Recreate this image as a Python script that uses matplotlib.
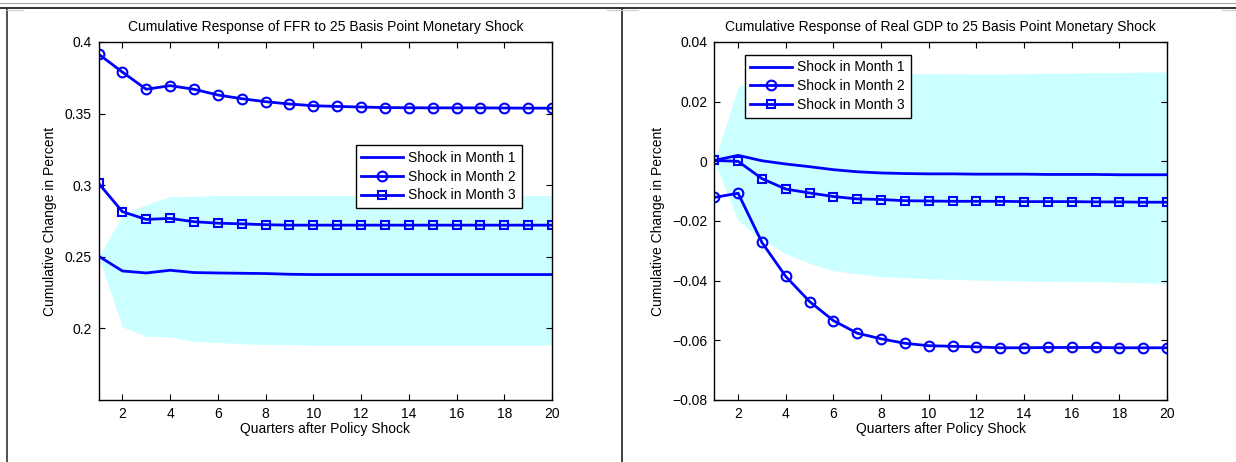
import matplotlib
matplotlib.use("Agg")
import matplotlib.pyplot as plt
from matplotlib.lines import Line2D

plt.rcParams['font.family'] = ['Liberation Sans', 'DejaVu Sans']

quarters = list(range(1, 21))

# FFR response
ffr_m1 = [0.2505, 0.2401, 0.2387, 0.2406, 0.2390, 0.2387, 0.2385, 0.2383, 0.2378, 0.2376,
          0.2376, 0.2376, 0.2376, 0.2376, 0.2376, 0.2376, 0.2376, 0.2376, 0.2376, 0.2376]
ffr_m2 = [0.3916, 0.3790, 0.3670, 0.3695, 0.3670, 0.3630, 0.3604, 0.3583, 0.3567, 0.3555,
          0.3550, 0.3546, 0.3542, 0.3541, 0.3540, 0.3540, 0.3540, 0.3539, 0.3538, 0.3538]
ffr_m3 = [0.3014, 0.2815, 0.2761, 0.2768, 0.2745, 0.2735, 0.2730, 0.2724, 0.2721, 0.2721,
          0.2721, 0.2721, 0.2721, 0.2721, 0.2721, 0.2721, 0.2721, 0.2721, 0.2721, 0.2721]
ffr_lo = [0.2500, 0.2010, 0.1944, 0.1940, 0.1909, 0.1902, 0.1893, 0.1888, 0.1886, 0.1884,
          0.1884, 0.1884, 0.1884, 0.1884, 0.1884, 0.1884, 0.1884, 0.1884, 0.1884, 0.1884]
ffr_hi = [0.2500, 0.2790, 0.2865, 0.2920, 0.2922, 0.2928, 0.2928, 0.2928, 0.2928, 0.2928,
          0.2928, 0.2928, 0.2928, 0.2928, 0.2928, 0.2928, 0.2928, 0.2928, 0.2928, 0.2928]

# Real GDP response
gdp_m1 = [0.0003, 0.0020, 0.0002, -0.0009, -0.0018, -0.0028, -0.0035, -0.0039, -0.0041, -0.0042,
          -0.0042, -0.0043, -0.0043, -0.0043, -0.0044, -0.0044, -0.0044, -0.0045, -0.0045, -0.0045]
gdp_m2 = [-0.0121, -0.0107, -0.0272, -0.0386, -0.0470, -0.0534, -0.0576, -0.0595, -0.0610, -0.0618,
          -0.0620, -0.0622, -0.0625, -0.0625, -0.0624, -0.0624, -0.0624, -0.0625, -0.0625, -0.0625]
gdp_m3 = [0.0003, 0.0000, -0.0058, -0.0093, -0.0106, -0.0118, -0.0126, -0.0128, -0.0132, -0.0133,
          -0.0134, -0.0134, -0.0134, -0.0135, -0.0135, -0.0135, -0.0136, -0.0136, -0.0137, -0.0137]
gdp_lo = [0.0000, -0.0199, -0.0263, -0.0310, -0.0342, -0.0367, -0.0377, -0.0386, -0.0390, -0.0393,
          -0.0396, -0.0398, -0.0400, -0.0401, -0.0402, -0.0403, -0.0404, -0.0405, -0.0407, -0.0409]
gdp_hi = [0.0000, 0.0248, 0.0293, 0.0297, 0.0297, 0.0296, 0.0295, 0.0295, 0.0294, 0.0294,
          0.0294, 0.0293, 0.0293, 0.0294, 0.0295, 0.0296, 0.0297, 0.0298, 0.0299, 0.0300]

labels = ['Shock in Month 1', 'Shock in Month 2', 'Shock in Month 3']

fig = plt.figure(figsize=(12.36, 4.62), dpi=100)

def draw(ax, m1, m2, m3, lo, hi, title, ylim, yticks, yticklabels, leg_anchor):
    ax.fill_between(quarters, lo, hi, color='#ccffff', linewidth=0)
    ax.plot(quarters, m1, color='blue', lw=2, label=labels[0])
    ax.plot(quarters, m2, color='blue', lw=2, marker='o', ms=7, mfc='none', mew=1.5, label=labels[1])
    ax.plot(quarters, m3, color='blue', lw=2, marker='s', ms=5.3, mfc='none', mew=1.5, label=labels[2])
    ax.set_xlim(1, 20)
    ax.set_ylim(*ylim)
    ax.set_xticks(range(2, 21, 2))
    ax.set_yticks(yticks)
    ax.set_yticklabels(yticklabels)
    ax.tick_params(direction='in', top=True, right=True, length=4, width=0.8, labelsize=10, pad=5)
    for s in ax.spines.values():
        s.set_linewidth(1.0)
    ax.set_title(title, fontsize=10, pad=8)
    ax.set_xlabel('Quarters after Policy Shock', fontsize=10, labelpad=1)
    ax.set_ylabel('Cumulative Change in Percent', fontsize=10, labelpad=5)
    leg = ax.legend(loc='upper left', bbox_to_anchor=leg_anchor, borderaxespad=0, fancybox=False,
                    edgecolor='black', framealpha=1, fontsize=10, handlelength=3.0,
                    labelspacing=0.35, borderpad=0.4, handletextpad=0.4)
    leg.get_frame().set_linewidth(1.0)

ax1 = fig.add_axes([0.0797, 0.1342, 0.3669, 0.7749])
draw(ax1, ffr_m1, ffr_m2, ffr_m3, ffr_lo, ffr_hi,
     'Cumulative Response of FFR to 25 Basis Point Monetary Shock',
     (0.15, 0.4), [0.2, 0.25, 0.3, 0.35, 0.4], ['0.2', '0.25', '0.3', '0.35', '0.4'],
     (0.567, 0.712))

ax2 = fig.add_axes([0.5779, 0.1342, 0.3663, 0.7749])
draw(ax2, gdp_m1, gdp_m2, gdp_m3, gdp_lo, gdp_hi,
     'Cumulative Response of Real GDP to 25 Basis Point Monetary Shock',
     (-0.08, 0.04), [-0.08, -0.06, -0.04, -0.02, 0, 0.02, 0.04],
     ['\u22120.08', '\u22120.06', '\u22120.04', '\u22120.02', '0', '0.02', '0.04'],
     (0.067, 0.964))

# table frame around the figure
H = 462.0
W = 1236.0
fig.add_artist(Line2D([0, 1], [1 - 2.5 / H, 1 - 2.5 / H], color='#aaaaaa', lw=0.8))
fig.add_artist(Line2D([0, 1], [1 - 8.3 / H, 1 - 8.3 / H], color='#222222', lw=1.3))
fig.add_artist(Line2D([7 / W, 7 / W], [0, 1 - 8.3 / H], color='#333333', lw=1.2))
fig.add_artist(Line2D([622 / W, 622 / W], [0, 1 - 8.3 / H], color='#222222', lw=1.2))
for x0, x1 in [(7, 23), (607, 638), (1222, 1236)]:
    fig.add_artist(Line2D([x0 / W, x1 / W], [1 - 9.5 / H, 1 - 9.5 / H], color='#cccccc', lw=0.8))

fig.savefig('out.png', dpi=100)
